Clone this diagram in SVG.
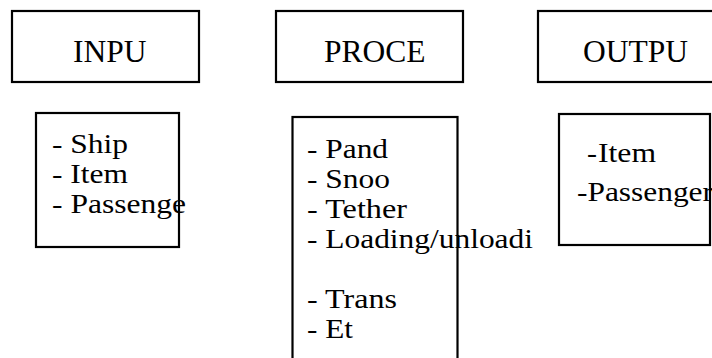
<svg xmlns="http://www.w3.org/2000/svg" width="712" height="358" viewBox="0 0 712 358">
  <style>
    .box { fill: none; stroke: #000; stroke-width: 2.2; }
    .h { font-family: "Liberation Serif", "Times New Roman", serif; font-size: 31.5px; fill: #000; }
    .t { font-family: "Liberation Serif", "Times New Roman", serif; font-size: 27px; fill: #000; }
  </style>
  <rect width="712" height="358" fill="#fff"/>

  <!-- column headers -->
  <g id="input-header">
    <rect class="box" x="12" y="11" width="187" height="71"/>
    <text class="h" x="73" y="62">INPU</text>
  </g>
  <g id="process-header">
    <rect class="box" x="276" y="11" width="187" height="71"/>
    <text class="h" x="324" y="62">PROCE</text>
  </g>
  <g id="output-header">
    <rect class="box" x="538" y="11" width="190" height="71"/>
    <text class="h" x="583" y="62">OUTPU</text>
  </g>

  <!-- column contents, lines set 30px apart and stretched to full width -->
  <g id="input-list">
    <text class="t" x="52" y="153" textLength="76" lengthAdjust="spacingAndGlyphs">- Ship</text>
    <text class="t" x="52" y="183" textLength="76" lengthAdjust="spacingAndGlyphs">- Item</text>
    <text class="t" x="52" y="213" textLength="134" lengthAdjust="spacingAndGlyphs">- Passenge</text>
    <rect class="box" x="36" y="113" width="143" height="134"/>
  </g>
  <g id="process-list">
    <text class="t" x="307" y="158" textLength="81" lengthAdjust="spacingAndGlyphs">- Pand</text>
    <text class="t" x="307" y="188" textLength="83" lengthAdjust="spacingAndGlyphs">- Snoo</text>
    <text class="t" x="307" y="218" textLength="100" lengthAdjust="spacingAndGlyphs">- Tether</text>
    <text class="t" x="307" y="248" textLength="226" lengthAdjust="spacingAndGlyphs">- Loading/unloadi</text>
    <text class="t" x="307" y="308" textLength="90" lengthAdjust="spacingAndGlyphs">- Trans</text>
    <text class="t" x="307" y="338" textLength="46" lengthAdjust="spacingAndGlyphs">- Et</text>
    <rect class="box" x="292.5" y="117" width="165" height="260"/>
  </g>
  <g id="output-list">
    <text class="t" x="587" y="162" textLength="10" lengthAdjust="spacingAndGlyphs">-</text>
    <text class="t" x="598" y="162" textLength="58" lengthAdjust="spacingAndGlyphs">Item</text>
    <text class="t" x="577" y="201" textLength="136" lengthAdjust="spacingAndGlyphs">-Passenger</text>
    <rect class="box" x="559" y="114" width="151" height="131"/>
  </g>

  <!-- no connectors are drawn between the columns -->
  <g id="connectors"/>
</svg>
